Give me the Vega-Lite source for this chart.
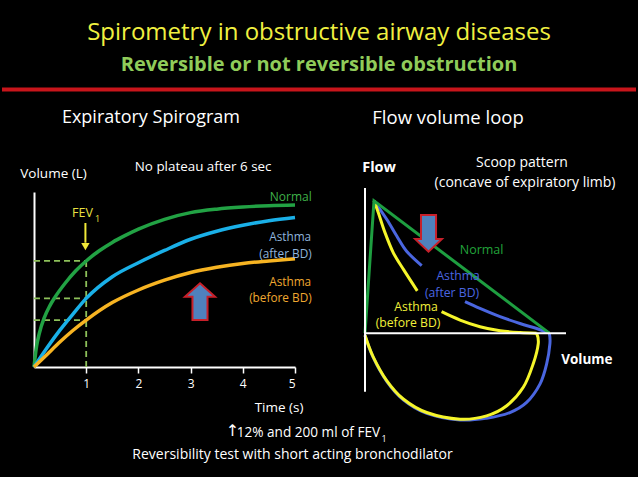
{
  "$schema": "https://vega.github.io/schema/vega-lite/v6.json",
  "background": "#000000",
  "padding": {"left": 0, "right": 0, "top": 21, "bottom": 15},
  "config": {"view": {"stroke": null}, "font": "Open Sans", "text": {"font": "Open Sans"}},
  "title": {
    "text": "Spirometry in obstructive airway diseases",
    "subtitle": "Reversible or not reversible obstruction",
    "color": "#f0f040", "fontSize": 24, "fontWeight": "normal", "font": "Open Sans",
    "subtitleColor": "#90cc5a", "subtitleFontSize": 20, "subtitleFontWeight": "bold", "subtitleFont": "Open Sans",
    "subtitlePadding": 10, "offset": 12, "anchor": "middle", "frame": "bounds"
  },
  "datasets": {
    "spiro": [
      {"t": 0, "v": 0, "curve": "Normal"}, {"t": 0.05, "v": 0.6, "curve": "Normal"}, {"t": 0.1, "v": 0.95, "curve": "Normal"},
      {"t": 0.2, "v": 1.42, "curve": "Normal"}, {"t": 0.3, "v": 1.74, "curve": "Normal"}, {"t": 0.4, "v": 1.99, "curve": "Normal"},
      {"t": 0.6, "v": 2.4, "curve": "Normal"}, {"t": 0.8, "v": 2.75, "curve": "Normal"}, {"t": 1, "v": 3.03, "curve": "Normal"},
      {"t": 1.25, "v": 3.32, "curve": "Normal"}, {"t": 1.5, "v": 3.56, "curve": "Normal"}, {"t": 1.75, "v": 3.76, "curve": "Normal"},
      {"t": 2, "v": 3.94, "curve": "Normal"}, {"t": 2.5, "v": 4.22, "curve": "Normal"}, {"t": 3, "v": 4.41, "curve": "Normal"},
      {"t": 3.5, "v": 4.51, "curve": "Normal"}, {"t": 4, "v": 4.57, "curve": "Normal"}, {"t": 4.5, "v": 4.61, "curve": "Normal"},
      {"t": 5, "v": 4.63, "curve": "Normal"},
      {"t": 0, "v": 0, "curve": "After BD"}, {"t": 0.25, "v": 0.55, "curve": "After BD"}, {"t": 0.5, "v": 1.06, "curve": "After BD"},
      {"t": 0.75, "v": 1.52, "curve": "After BD"}, {"t": 1, "v": 1.96, "curve": "After BD"}, {"t": 1.5, "v": 2.58, "curve": "After BD"},
      {"t": 2, "v": 2.98, "curve": "After BD"}, {"t": 2.5, "v": 3.33, "curve": "After BD"}, {"t": 3, "v": 3.65, "curve": "After BD"},
      {"t": 3.5, "v": 3.88, "curve": "After BD"}, {"t": 4, "v": 4.05, "curve": "After BD"}, {"t": 4.5, "v": 4.18, "curve": "After BD"},
      {"t": 5, "v": 4.27, "curve": "After BD"},
      {"t": 0, "v": 0, "curve": "Before BD"}, {"t": 0.25, "v": 0.36, "curve": "Before BD"}, {"t": 0.5, "v": 0.72, "curve": "Before BD"},
      {"t": 0.75, "v": 1.05, "curve": "Before BD"}, {"t": 1, "v": 1.34, "curve": "Before BD"}, {"t": 1.5, "v": 1.84, "curve": "Before BD"},
      {"t": 2, "v": 2.2, "curve": "Before BD"}, {"t": 2.5, "v": 2.48, "curve": "Before BD"}, {"t": 3, "v": 2.7, "curve": "Before BD"},
      {"t": 3.5, "v": 2.85, "curve": "Before BD"}, {"t": 4, "v": 2.96, "curve": "Before BD"}, {"t": 4.5, "v": 3.03, "curve": "Before BD"},
      {"t": 5, "v": 3.09, "curve": "Before BD"}
    ],
    "fev": [
      {"t": 0, "t2": 1, "v": 3.03, "v2": 3.03},
      {"t": 0, "t2": 1, "v": 1.96, "v2": 1.96},
      {"t": 0, "t2": 1, "v": 1.34, "v2": 1.34},
      {"t": 1, "t2": 1, "v": 0, "v2": 3.03}
    ],
    "fvl": [
      {"vol": 0, "flow": 0, "curve": "Normal", "seg": "g", "i": 0},
      {"vol": 0.448, "flow": 6.565, "curve": "Normal", "seg": "g", "i": 1},
      {"vol": 9.17, "flow": 0, "curve": "Normal", "seg": "g", "i": 2},
      {"vol": 0.448, "flow": 6.565, "curve": "After BD", "seg": "b1", "i": 3},
      {"vol": 1.08, "flow": 5.65, "curve": "After BD", "seg": "b1", "i": 4},
      {"vol": 1.58, "flow": 4.82, "curve": "After BD", "seg": "b1", "i": 5},
      {"vol": 2.07, "flow": 4.065, "curve": "After BD", "seg": "b1", "i": 6},
      {"vol": 2.82, "flow": 3.35, "curve": "After BD", "seg": "b1", "i": 7},
      {"vol": 4.975, "flow": 1.565, "curve": "After BD", "seg": "b2", "i": 8},
      {"vol": 5.72, "flow": 1.23, "curve": "After BD", "seg": "b2", "i": 9},
      {"vol": 6.72, "flow": 0.82, "curve": "After BD", "seg": "b2", "i": 10},
      {"vol": 7.71, "flow": 0.48, "curve": "After BD", "seg": "b2", "i": 11},
      {"vol": 8.54, "flow": 0.23, "curve": "After BD", "seg": "b2", "i": 12},
      {"vol": 9.17, "flow": 0, "curve": "After BD", "seg": "b2", "i": 13},
      {"vol": 9.17, "flow": 0, "curve": "After BD", "seg": "b3", "i": 14},
      {"vol": 9.2, "flow": -0.515, "curve": "After BD", "seg": "b3", "i": 15},
      {"vol": 9.04, "flow": -1.515, "curve": "After BD", "seg": "b3", "i": 16},
      {"vol": 8.71, "flow": -2.515, "curve": "After BD", "seg": "b3", "i": 17},
      {"vol": 8.04, "flow": -3.435, "curve": "After BD", "seg": "b3", "i": 18},
      {"vol": 7.21, "flow": -3.935, "curve": "After BD", "seg": "b3", "i": 19},
      {"vol": 6.05, "flow": -4.215, "curve": "After BD", "seg": "b3", "i": 20},
      {"vol": 4.73, "flow": -4.3, "curve": "After BD", "seg": "b3", "i": 21},
      {"vol": 3.07, "flow": -3.975, "curve": "After BD", "seg": "b3", "i": 22},
      {"vol": 1.905, "flow": -3.3, "curve": "After BD", "seg": "b3", "i": 23},
      {"vol": 1.08, "flow": -2.385, "curve": "After BD", "seg": "b3", "i": 24},
      {"vol": 0.413, "flow": -1.215, "curve": "After BD", "seg": "b3", "i": 25},
      {"vol": 0, "flow": -0.1, "curve": "After BD", "seg": "b3", "i": 26},
      {"vol": 0.448, "flow": 6.565, "curve": "Before BD", "seg": "y1", "i": 27},
      {"vol": 0.66, "flow": 5.985, "curve": "Before BD", "seg": "y1", "i": 28},
      {"vol": 0.995, "flow": 4.985, "curve": "Before BD", "seg": "y1", "i": 29},
      {"vol": 1.41, "flow": 3.985, "curve": "Before BD", "seg": "y1", "i": 30},
      {"vol": 1.92, "flow": 3.15, "curve": "Before BD", "seg": "y1", "i": 31},
      {"vol": 2.6, "flow": 2.1, "curve": "Before BD", "seg": "y1", "i": 32},
      {"vol": 3.81, "flow": 1.065, "curve": "Before BD", "seg": "y2", "i": 33},
      {"vol": 4.73, "flow": 0.65, "curve": "Before BD", "seg": "y2", "i": 34},
      {"vol": 5.72, "flow": 0.32, "curve": "Before BD", "seg": "y2", "i": 35},
      {"vol": 6.72, "flow": 0.12, "curve": "Before BD", "seg": "y2", "i": 36},
      {"vol": 7.71, "flow": 0.03, "curve": "Before BD", "seg": "y2", "i": 37},
      {"vol": 8.54, "flow": 0, "curve": "Before BD", "seg": "y2", "i": 38},
      {"vol": 8.54, "flow": 0, "curve": "Before BD", "seg": "y3", "i": 39},
      {"vol": 8.62, "flow": -0.515, "curve": "Before BD", "seg": "y3", "i": 40},
      {"vol": 8.37, "flow": -1.515, "curve": "Before BD", "seg": "y3", "i": 41},
      {"vol": 7.875, "flow": -2.685, "curve": "Before BD", "seg": "y3", "i": 42},
      {"vol": 7.05, "flow": -3.6, "curve": "Before BD", "seg": "y3", "i": 43},
      {"vol": 6.05, "flow": -4.1, "curve": "Before BD", "seg": "y3", "i": 44},
      {"vol": 4.73, "flow": -4.265, "curve": "Before BD", "seg": "y3", "i": 45},
      {"vol": 3.07, "flow": -3.935, "curve": "Before BD", "seg": "y3", "i": 46},
      {"vol": 1.905, "flow": -3.265, "curve": "Before BD", "seg": "y3", "i": 47},
      {"vol": 1.08, "flow": -2.35, "curve": "Before BD", "seg": "y3", "i": 48},
      {"vol": 0.413, "flow": -1.185, "curve": "Before BD", "seg": "y3", "i": 49},
      {"vol": 0, "flow": -0.1, "curve": "Before BD", "seg": "y3", "i": 50}
    ]
  },
  "spacing": 70,
  "bounds": "flush",
  "hconcat": [
    {
      "width": 261,
      "height": 175,
      "layer": [
        {
          "data": {"name": "fev"},
          "mark": {"type": "rule", "color": "#8dc05a", "strokeWidth": 1.8, "strokeDash": [6, 4]},
          "encoding": {
            "x": {"field": "t", "type": "quantitative", "scale": {"domain": [0, 5]}, "title": "Time (s)"},
            "x2": {"field": "t2"},
            "y": {"field": "v", "type": "quantitative", "scale": {"domain": [0, 5]}, "title": "Volume (L)"},
            "y2": {"field": "v2"}
          }
        },
        {
          "data": {"name": "spiro"},
          "mark": {"type": "line", "interpolate": "monotone", "strokeWidth": 3.5},
          "encoding": {
            "x": {"field": "t", "type": "quantitative", "scale": {"domain": [0, 5]}, "title": "Time (s)",
              "axis": {"values": [1, 2, 3, 4, 5], "domainColor": "#ffffff", "domainWidth": 2, "tickColor": "#ffffff", "tickWidth": 1.5, "tickSize": 6,
                "labelColor": "#ffffff", "labelFontSize": 12, "labelFont": "Open Sans", "labelPadding": 5, "grid": false,
                "titleColor": "#ffffff", "titleFont": "Open Sans", "titleFontSize": 13.5, "titleFontWeight": "normal",
                "titleX": 269, "titleY": 40, "titleAlign": "right", "titleBaseline": "middle"}},
            "y": {"field": "v", "type": "quantitative", "scale": {"domain": [0, 5]}, "title": "Volume (L)",
              "axis": {"domainColor": "#ffffff", "domainWidth": 2, "ticks": false, "labels": false, "grid": false,
                "titleAngle": 0, "titleX": 19, "titleY": -19, "titleAlign": "center", "titleBaseline": "middle",
                "titleColor": "#ffffff", "titleFont": "Open Sans", "titleFontSize": 13.5, "titleFontWeight": "normal"}},
            "color": {"field": "curve", "type": "nominal", "legend": null,
              "scale": {"domain": ["Normal", "After BD", "Before BD"], "range": ["#22a244", "#1ab0e8", "#f7b422"]}}
          }
        },
        {
          "data": {"values": [{}]},
          "mark": {"type": "rule", "color": "#f0e838", "strokeWidth": 2},
          "encoding": {"x": {"datum": 0.985}, "y": {"datum": 4.114}, "y2": {"datum": 3.55}}
        },
        {
          "data": {"values": [{}]},
          "mark": {"type": "point", "shape": "triangle-down", "filled": true, "color": "#f0e838", "size": 70, "opacity": 1},
          "encoding": {"x": {"datum": 0.985}, "y": {"datum": 3.44}}
        },
        {
          "data": {"values": [{}]},
          "mark": {"type": "point", "shape": "M 0 -1 L 0.82 -0.27 L 0.41 -0.27 L 0.41 1 L -0.41 1 L -0.41 -0.27 L -0.82 -0.27 Z",
            "filled": true, "fill": "#4f81bd", "stroke": "#c8202a", "strokeWidth": 2, "size": 1347, "opacity": 1},
          "encoding": {"x": {"datum": 3.18}, "y": {"datum": 1.866}}
        },
        {
          "data": {"values": [{}]},
          "mark": {"type": "text", "fontSize": 12.5, "color": "#e8e040"},
          "encoding": {"x": {"datum": 0.929}, "y": {"datum": 4.39}, "text": {"value": "FEV"}}
        },
        {
          "data": {"values": [{}]},
          "mark": {"type": "text", "fontSize": 9, "color": "#e8e040"},
          "encoding": {"x": {"datum": 1.22}, "y": {"datum": 4.23}, "text": {"value": "1"}}
        },
        {
          "data": {"values": [{}]},
          "mark": {"type": "text", "fontSize": 13.4, "color": "#ffffff"},
          "encoding": {"x": {"datum": 3.24}, "y": {"datum": 5.72}, "text": {"value": "No plateau after 6 sec"}}
        },
        {
          "data": {"values": [{}]},
          "mark": {"type": "text", "fontSize": 12, "align": "right", "color": "#3fb24a"},
          "encoding": {"x": {"datum": 5.32}, "y": {"datum": 4.866}, "text": {"value": "Normal"}}
        },
        {
          "data": {"values": [{}]},
          "mark": {"type": "text", "fontSize": 11.8, "align": "right", "color": "#8fb4dc"},
          "encoding": {"x": {"datum": 5.31}, "y": {"datum": 3.706}, "text": {"value": "Asthma"}}
        },
        {
          "data": {"values": [{}]},
          "mark": {"type": "text", "fontSize": 11.8, "align": "right", "color": "#8fb4dc"},
          "encoding": {"x": {"datum": 5.32}, "y": {"datum": 3.229}, "text": {"value": "(after BD)"}}
        },
        {
          "data": {"values": [{}]},
          "mark": {"type": "text", "fontSize": 11.8, "align": "right", "color": "#f0a830"},
          "encoding": {"x": {"datum": 5.31}, "y": {"datum": 2.437}, "text": {"value": "Asthma"}}
        },
        {
          "data": {"values": [{}]},
          "mark": {"type": "text", "fontSize": 11.8, "align": "right", "color": "#f0a830"},
          "encoding": {"x": {"datum": 5.32}, "y": {"datum": 1.963}, "text": {"value": "(before BD)"}}
        },
        {
          "data": {"values": [{}]},
          "mark": {"type": "text", "fontSize": 18, "color": "#ffffff"},
          "encoding": {"x": {"datum": 2.24}, "y": {"datum": 7.114}, "text": {"value": "Expiratory Spirogram"}}
        },
        {
          "data": {"values": [{}]},
          "mark": {"type": "text", "fontSize": 16, "font": "DejaVu Sans", "color": "#ffffff"},
          "encoding": {"x": {"datum": 3.8}, "y": {"datum": -1.84}, "text": {"value": "↑"}}
        },
        {
          "data": {"values": [{}]},
          "mark": {"type": "text", "fontSize": 13.6, "align": "right", "color": "#ffffff"},
          "encoding": {"x": {"datum": 6.63}, "y": {"datum": -1.886}, "text": {"value": "12% and 200 ml of FEV"}}
        },
        {
          "data": {"values": [{}]},
          "mark": {"type": "text", "fontSize": 9, "color": "#ffffff"},
          "encoding": {"x": {"datum": 6.705}, "y": {"datum": -2.057}, "text": {"value": "1"}}
        },
        {
          "data": {"values": [{}]},
          "mark": {"type": "text", "fontSize": 14, "color": "#ffffff"},
          "encoding": {"x": {"datum": 4.952}, "y": {"datum": -2.514}, "text": {"value": "Reversibility test with short acting bronchodilator"}}
        },
        {
          "data": {"values": [{}]},
          "mark": {"type": "rule", "color": "#c8151b", "strokeWidth": 4},
          "encoding": {"x": {"datum": -0.613}, "x2": {"datum": 11.533}, "y": {"datum": 7.929}}
        }
      ]
    },
    {
      "width": 201,
      "height": 242,
      "layer": [
        {
          "data": {"name": "fvl"},
          "transform": [{"filter": "datum.curve === 'After BD'"}],
          "mark": {"type": "line", "interpolate": "cardinal", "strokeWidth": 3, "color": "#4a66e0"},
          "encoding": {
            "x": {"field": "vol", "type": "quantitative", "scale": {"domain": [0, 10]}, "axis": null},
            "y": {"field": "flow", "type": "quantitative", "scale": {"domain": [-5, 7]}, "axis": null},
            "detail": {"field": "seg"},
            "order": {"field": "i"}
          }
        },
        {
          "data": {"name": "fvl"},
          "transform": [{"filter": "datum.curve === 'Before BD'"}],
          "mark": {"type": "line", "interpolate": "cardinal", "strokeWidth": 3, "color": "#f5f52a"},
          "encoding": {
            "x": {"field": "vol", "type": "quantitative", "scale": {"domain": [0, 10]}, "axis": null},
            "y": {"field": "flow", "type": "quantitative", "scale": {"domain": [-5, 7]}, "axis": null},
            "detail": {"field": "seg"},
            "order": {"field": "i"}
          }
        },
        {
          "data": {"name": "fvl"},
          "transform": [{"filter": "datum.curve === 'Normal'"}],
          "mark": {"type": "line", "interpolate": "linear", "strokeWidth": 3, "color": "#1e9e40"},
          "encoding": {
            "x": {"field": "vol", "type": "quantitative", "scale": {"domain": [0, 10]}, "axis": null},
            "y": {"field": "flow", "type": "quantitative", "scale": {"domain": [-5, 7]}, "axis": null},
            "order": {"field": "i"}
          }
        },
        {
          "data": {"values": [{}]},
          "mark": {"type": "rule", "color": "#ffffff", "strokeWidth": 2},
          "encoding": {"x": {"datum": 0}, "y": {"datum": -2.9}, "y2": {"datum": 7.2}}
        },
        {
          "data": {"values": [{}]},
          "mark": {"type": "rule", "color": "#ffffff", "strokeWidth": 2},
          "encoding": {"x": {"datum": 0}, "x2": {"datum": 10}, "y": {"datum": 0}}
        },
        {
          "data": {"values": [{}]},
          "mark": {"type": "point", "shape": "M -0.41 -1 L 0.41 -1 L 0.41 0.31 L 0.73 0.31 L 0 1 L -0.73 0.31 L -0.41 0.31 Z",
            "filled": true, "fill": "#4f81bd", "stroke": "#c8202a", "strokeWidth": 2, "size": 1347, "opacity": 1},
          "encoding": {"x": {"datum": 3.16}, "y": {"datum": 4.95}}
        },
        {
          "data": {"values": [{}]},
          "mark": {"type": "text", "fontSize": 18.5, "color": "#ffffff"},
          "encoding": {"x": {"datum": 4.13}, "y": {"datum": 10.67}, "text": {"value": "Flow volume loop"}}
        },
        {
          "data": {"values": [{}]},
          "mark": {"type": "text", "fontSize": 14.5, "fontWeight": "bold", "color": "#ffffff"},
          "encoding": {"x": {"datum": 0.7}, "y": {"datum": 8.19}, "text": {"value": "Flow"}}
        },
        {
          "data": {"values": [{}]},
          "mark": {"type": "text", "fontSize": 13.5, "fontWeight": "bold", "color": "#ffffff"},
          "encoding": {"x": {"datum": 11.04}, "y": {"datum": -1.33}, "text": {"value": "Volume"}}
        },
        {
          "data": {"values": [{}]},
          "mark": {"type": "text", "fontSize": 14, "color": "#ffffff"},
          "encoding": {"x": {"datum": 7.81}, "y": {"datum": 8.44}, "text": {"value": "Scoop pattern"}}
        },
        {
          "data": {"values": [{}]},
          "mark": {"type": "text", "fontSize": 14, "color": "#ffffff"},
          "encoding": {"x": {"datum": 7.96}, "y": {"datum": 7.45}, "text": {"value": "(concave of expiratory limb)"}}
        },
        {
          "data": {"values": [{}]},
          "mark": {"type": "text", "fontSize": 12.5, "color": "#22a33a"},
          "encoding": {"x": {"datum": 5.8}, "y": {"datum": 4.125}, "text": {"value": "Normal"}}
        },
        {
          "data": {"values": [{}]},
          "mark": {"type": "text", "fontSize": 12.2, "color": "#4a66e0"},
          "encoding": {"x": {"datum": 4.63}, "y": {"datum": 2.84}, "text": {"value": "Asthma"}}
        },
        {
          "data": {"values": [{}]},
          "mark": {"type": "text", "fontSize": 12.2, "color": "#4a66e0"},
          "encoding": {"x": {"datum": 4.33}, "y": {"datum": 2.0}, "text": {"value": "(after BD)"}}
        },
        {
          "data": {"values": [{}]},
          "mark": {"type": "text", "fontSize": 12.2, "color": "#f2f03a"},
          "encoding": {"x": {"datum": 2.54}, "y": {"datum": 1.32}, "text": {"value": "Asthma"}}
        },
        {
          "data": {"values": [{}]},
          "mark": {"type": "text", "fontSize": 12.2, "color": "#f2f03a"},
          "encoding": {"x": {"datum": 2.14}, "y": {"datum": 0.5}, "text": {"value": "(before BD)"}}
        }
      ]
    }
  ]
}
